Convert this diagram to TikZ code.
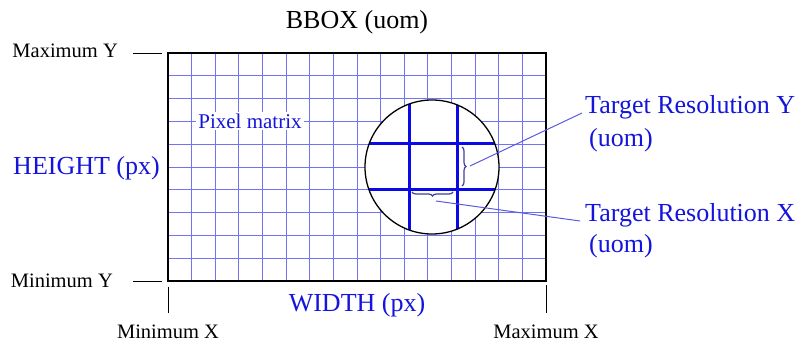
\documentclass[tikz,border=0pt]{standalone}
\usepackage{fontspec}
\setmainfont{Liberation Serif}
\usetikzlibrary{calc,positioning,decorations.pathreplacing}
\definecolor{labelblue}{HTML}{1414DC}
\definecolor{gridblue}{HTML}{7272F4}
\definecolor{cellblue}{HTML}{0A0AE6}
\definecolor{leaderblue}{HTML}{5A5AE0}
\tikzset{
  frame/.style={black, line width=2.4pt},
  gridline/.style={gridblue, line width=0.9pt},
  cellline/.style={cellblue, line width=3pt},
  tickline/.style={black, line width=0.9pt},
  leader/.style={leaderblue, line width=1pt},
  bracemark/.style={leaderblue!70!black, line width=1.2pt, decorate, decoration={brace, amplitude=4pt}},
  blacklabel/.style={black, font=\fontsize{20.5}{24}\selectfont, inner sep=0pt},
  bluelabel/.style={labelblue, font=\fontsize{26}{30}\selectfont, inner sep=0pt},
  bluesmall/.style={labelblue, font=\fontsize{21}{24}\selectfont, fill=white, inner sep=2pt}
}

\begin{document}
\begin{tikzpicture}[x=1pt, y=-1pt]
  \useasboundingbox (0,0) rectangle (800,342);
  % pixel matrix
  \coordinate (tl) at (168,53);
  \coordinate (bl) at (168,281);
  \coordinate (br) at (546,281);
  \foreach \i in {1,...,15}
    \draw[gridline] ({168+\i*23.625},53) -- ({168+\i*23.625},281);
  \foreach \j in {1,...,9}
    \draw[gridline] (168,{53+\j*22.8}) -- (546,{53+\j*22.8});
  \node[bluesmall] (pixlabel) at (250,121) {Pixel matrix};
  % magnified target cells
  \fill[white] (432,167) circle (67);
  \begin{scope}
    \clip (432,167) circle (67);
    \foreach \x in {409,457} \draw[cellline] (\x,95) -- (\x,240);
    \foreach \y in {143,189} \draw[cellline] (360,\y) -- (505,\y);
  \end{scope}
  \draw[black, line width=1.3pt] (432,167) circle (67);
  \draw[frame] (tl) rectangle (br);
  \draw[bracemark] (462,147) -- (462,186);
  \draw[bracemark] (453,192) -- (412,192);
  \coordinate (tipY) at (470,166);
  \coordinate (tipX) at (436,201);
  % labels
  \node[bluelabel] (bbox) at (357,22) {\color{black}BBOX (uom)};
  \node[bluelabel, anchor=east] (height) at (160,168) {HEIGHT (px)};
  \node[bluelabel] (width) at (357,305) {WIDTH (px)};
  \node[blacklabel, anchor=east] (maxY) at (118,51) {Maximum Y};
  \node[blacklabel, anchor=east] (minY) at (113,281) {Minimum Y};
  \node[blacklabel] (minX) at (168,332) {Minimum X};
  \node[blacklabel] (maxX) at (546,332) {Maximum X};
  \node[bluelabel, anchor=west] (resY) at (585,107) {Target Resolution Y};
  \node[bluelabel, anchor=west] (resYuom) at (589,140) {(uom)};
  \node[bluelabel, anchor=west] (resX) at (585,215) {Target Resolution X};
  \node[bluelabel, anchor=west] (resXuom) at (589,246) {(uom)};
  % ticks and leaders
  \draw[tickline] ($(maxY.east)+(15,2)$) -- ($(tl)+(-6,0)$);
  \draw[tickline] ($(minY.east)+(20,0)$) -- ($(bl)+(-6,0)$);
  \draw[tickline] ($(bl)+(0,6)$) -- ($(bl)+(0,32)$);
  \draw[tickline] ($(br)+(0,4)$) -- ($(br)+(0,32)$);
  \draw[leader] (tipY) -- ($(resY.west)+(-3,6)$);
  \draw[leader] (tipX) -- ($(resX.west)+(-5,6)$);
\end{tikzpicture}
\end{document}
